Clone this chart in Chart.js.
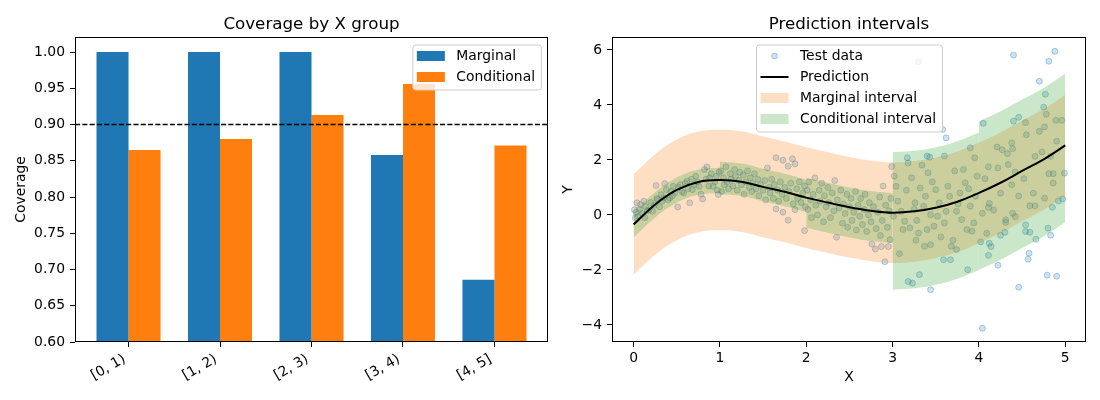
<!DOCTYPE html>
<html>
<head>
<meta charset="utf-8">
<script src="https://cdn.jsdelivr.net/npm/chart.js@4.4.1/dist/chart.umd.min.js"></script>
<style>
  html, body { margin: 0; padding: 0; background: #fff; }
  #wrap { position: relative; width: 1100px; height: 400px; }
  canvas { position: absolute; top: 0; }
  #coverage { left: 0; }
  #intervals { left: 550px; }
</style>
</head>
<body>
<div id="wrap">
  <canvas id="coverage" width="550" height="400"></canvas>
  <canvas id="intervals" width="550" height="400"></canvas>
</div>
<script>
// ---- left panel: coverage per group
const groups = ['[0, 1)', '[1, 2)', '[2, 3)', '[3, 4)', '[4, 5]'];
const marginalCov = [1.0, 1.0, 1.0, 0.858, 0.686];
const conditionalCov = [0.865, 0.880, 0.913, 0.956, 0.871];
const targetCov = 0.9;
const coverageTicks = [0.6, 0.65, 0.7, 0.75, 0.8, 0.85, 0.9, 0.95, 1.0];

// ---- right panel: prediction + intervals
const gridX = [0, 0.25, 0.5, 0.75, 1, 1.25, 1.5, 1.75, 2, 2.25, 2.5, 2.75, 3, 3.25, 3.5, 3.75, 4, 4.25, 4.5, 4.75, 5];
const prediction = [-0.35, 0.38, 0.91, 1.2, 1.27, 1.21, 1.02, 0.84, 0.63, 0.45, 0.28, 0.15, 0.08, 0.13, 0.26, 0.48, 0.8, 1.17, 1.6, 2.02, 2.53];
const marginalUpper = [1.48, 2.21, 2.74, 3.03, 3.1, 3.04, 2.85, 2.67, 2.46, 2.28, 2.11, 1.98, 1.91, 1.96, 2.09, 2.31, 2.63, 3.0, 3.43, 3.85, 4.36];
const marginalLower = [-2.18, -1.45, -0.92, -0.63, -0.56, -0.62, -0.81, -0.99, -1.2, -1.38, -1.55, -1.68, -1.75, -1.7, -1.57, -1.35, -1.03, -0.66, -0.23, 0.19, 0.7];

// conditional interval, one band per group, sampled at group start + 0, .25, .5, .75, 1
const groupStart = [0, 1, 2, 3, 4];
const groupSteps = [0, 0.25, 0.5, 0.75, 1];
const conditionalUpper = [
  [0.1, 0.83, 1.36, 1.65, 1.72],
  [1.93, 1.87, 1.68, 1.5, 1.29],
  [1.35, 1.17, 1.0, 0.87, 0.8],
  [2.28, 2.33, 2.46, 2.68, 3.0],
  [3.4, 3.77, 4.2, 4.62, 5.13]
];
const conditionalLower = [
  [-0.82, -0.09, 0.44, 0.73, 0.8],
  [0.75, 0.69, 0.5, 0.32, 0.11],
  [-0.47, -0.65, -0.82, -0.95, -1.02],
  [-2.72, -2.67, -2.54, -2.32, -2.0],
  [-2.0, -1.63, -1.2, -0.78, -0.27]
];

const testData = [
  [0.01,0.19],[0.02,-0.11],[0.03,0.1],[0.04,0.44],[0.05,-0.05],[0.07,0.2],[0.08,0.38],[0.1,0.05],[0.12,0.5],[0.13,-0.1],
  [0.14,0.3],[0.16,0.15],[0.18,0.19],[0.2,0.45],[0.22,0.13],[0.24,0.35],[0.26,1.07],[0.27,0.6],[0.28,0.56],[0.3,0.3],
  [0.32,0.74],[0.33,0.5],[0.35,0.62],[0.36,1.14],[0.38,0.92],[0.4,0.55],[0.42,0.62],[0.43,0.85],[0.45,0.7],[0.46,1.04],
  [0.48,0.8],[0.51,0.29],[0.52,1.0],[0.54,1.1],[0.56,0.85],[0.58,0.8],[0.6,1.15],[0.62,1.23],[0.63,0.95],[0.65,0.44],
  [0.67,1.3],[0.68,0.92],[0.7,1.1],[0.72,1.41],[0.74,1.2],[0.76,1.04],[0.78,0.75],[0.8,0.58],[0.82,1.65],[0.84,1.3],
  [0.85,1.75],[0.87,1.05],[0.88,1.35],[0.9,1.5],[0.92,1.04],[0.94,1.2],[0.96,1.41],[0.97,0.9],[0.98,0.74],[0.99,1.55],
  [1.01,1.6],[1.02,0.85],[1.04,1.35],[1.05,1.1],[1.07,1.75],[1.08,1.2],[1.1,0.95],[1.12,1.5],[1.13,1.3],[1.15,1.05],
  [1.17,1.65],[1.18,1.4],[1.2,0.9],[1.22,1.25],[1.23,1.55],[1.25,1.1],[1.27,1.45],[1.28,0.75],[1.3,1.2],[1.32,1.6],
  [1.34,1.0],[1.35,1.35],[1.37,0.85],[1.38,1.15],[1.4,1.5],[1.42,0.95],[1.44,1.3],[1.45,0.7],[1.47,1.1],[1.5,0.9],
  [1.52,1.25],[1.53,0.55],[1.55,1.71],[1.57,1.0],[1.58,0.8],[1.6,1.3],[1.62,0.6],[1.63,1.1],[1.65,2.08],[1.65,0.22],
  [1.67,0.9],[1.68,0.5],[1.7,1.2],[1.72,0.75],[1.73,1.99],[1.73,0.1],[1.75,1.0],[1.77,0.6],[1.79,1.77],[1.79,-0.19],
  [1.8,0.85],[1.82,1.15],[1.84,2.04],[1.85,0.4],[1.87,1.86],[1.87,0.19],[1.89,0.95],[1.9,0.6],[1.92,1.2],[1.94,0.45],
  [1.96,0.8],[1.98,1.05],[1.98,-0.57],[1.99,0.3],
  [2.01,0.9],[2.02,0.2],[2.03,1.2],[2.05,0.55],[2.06,-0.1],[2.08,0.75],[2.1,1.35],[2.11,0.35],[2.13,0.0],[2.15,0.9],
  [2.16,0.5],[2.18,1.15],[2.2,-0.25],[2.21,0.7],[2.23,0.3],[2.25,1.0],[2.26,0.45],[2.28,-0.1],[2.3,0.8],[2.32,0.15],
  [2.33,1.25],[2.35,-0.81],[2.36,0.55],[2.38,0.25],[2.4,0.9],[2.42,-0.3],[2.43,0.4],[2.45,0.05],[2.47,0.75],[2.48,-0.45],
  [2.5,0.3],[2.52,0.6],[2.53,-0.2],[2.55,0.1],[2.57,0.85],[2.58,-0.55],[2.6,0.35],[2.62,-0.05],[2.63,0.6],[2.65,-0.35],
  [2.67,0.2],[2.68,0.75],[2.7,-0.6],[2.72,0.0],[2.73,0.45],[2.75,-0.25],[2.76,-1.06],[2.78,0.3],[2.8,-1.24],[2.81,-0.5],
  [2.83,0.1],[2.85,0.65],[2.86,-0.75],[2.87,-1.15],[2.88,-0.2],[2.89,1.05],[2.91,-1.7],[2.92,0.35],[2.94,-0.45],[2.95,-1.15],
  [2.96,0.15],[2.97,-0.9],[2.98,0.6],[2.99,1.76],
  [3.01,-0.05],[3.02,1.41],[3.04,1.04],[3.06,0.5],[3.08,-1.41],[3.1,0.13],[3.12,-0.53],[3.14,-0.23],[3.16,0.9],[3.17,2.08],
  [3.18,1.89],[3.18,-2.42],[3.2,-0.47],[3.22,1.35],[3.23,-2.48],[3.25,0.2],[3.26,0.44],[3.27,-0.92],[3.28,-0.2],[3.3,5.57],
  [3.3,-0.66],[3.31,-2.17],[3.32,0.98],[3.34,1.81],[3.36,0.32],[3.37,-1.14],[3.38,0.68],[3.4,2.14],[3.4,-0.53],[3.41,1.53],
  [3.43,2.1],[3.44,0.01],[3.44,-1.08],[3.44,-2.72],[3.46,1.2],[3.48,-0.41],[3.5,0.92],[3.52,-0.05],[3.54,0.44],[3.56,-0.8],
  [3.58,3.11],[3.59,-1.63],[3.6,2.14],[3.6,-0.29],[3.62,2.8],[3.62,0.13],[3.64,1.04],[3.66,0.68],[3.67,-1.63],[3.68,-1.14],
  [3.7,-0.92],[3.72,1.6],[3.74,0.13],[3.74,-1.26],[3.76,0.4],[3.78,0.8],[3.8,-0.17],[3.82,1.65],[3.84,1.17],[3.86,-0.53],
  [3.87,-1.99],[3.88,0.95],[3.9,2.44],[3.9,0.32],[3.92,-0.59],[3.94,-0.29],[3.95,2.08],[3.96,0.68],[3.98,1.41],
  [4.02,-0.98],[4.04,-4.12],[4.04,0.06],[4.05,3.33],[4.07,1.32],[4.09,-0.67],[4.11,1.75],[4.11,0.27],[4.11,-1.47],[4.12,0.42],
  [4.12,-1.03],[4.14,-1.15],[4.17,0.18],[4.21,2.47],[4.22,1.71],[4.22,-1.83],[4.25,0.79],[4.25,-0.74],[4.27,2.37],[4.3,-0.63],
  [4.31,-0.27],[4.31,-0.18],[4.33,2.23],[4.34,1.83],[4.38,2.62],[4.38,1.1],[4.39,2.41],[4.39,0.06],[4.4,5.81],[4.4,3.41],
  [4.42,1.56],[4.42,-0.06],[4.46,3.55],[4.46,0.69],[4.46,-2.63],[4.52,1.32],[4.54,3.36],[4.54,-0.36],[4.54,-0.6],[4.55,2.92],
  [4.57,-1.61],[4.58,-1.39],[4.59,0.33],[4.59,-0.63],[4.63,0.79],[4.65,2.13],[4.65,0.33],[4.66,-0.88],[4.7,4.86],[4.7,3.04],
  [4.73,2.29],[4.75,3.92],[4.76,3.2],[4.76,0.61],[4.77,4.39],[4.78,3.66],[4.79,-2.19],[4.8,-0.48],[4.81,5.59],[4.81,1.5],
  [4.83,2.13],[4.83,-0.74],[4.85,0.28],[4.86,1.5],[4.86,1.16],[4.88,5.95],[4.89,3.44],[4.9,2.68],[4.9,-2.23],[4.92,0.51],
  [4.96,3.44],[4.97,0.58],[4.99,1.52]
];
const xTicks = [0, 1, 2, 3, 4, 5];
const yTicks = [-4, -2, 0, 2, 4, 6];

const BLUE = '#1f77b4', ORANGE = '#ff7f0e';
const ORANGE_BAND = 'rgba(255,127,14,0.25)', GREEN_BAND = 'rgba(44,160,44,0.25)';
const DOT_FILL = 'rgba(31,119,180,0.22)', DOT_EDGE = 'rgba(31,119,180,0.32)';

Chart.defaults.font.family = 'DejaVu Sans';
Chart.defaults.font.size = 13.9;
Chart.defaults.color = '#000';

const minus = v => (v < 0 ? '\u2212' + Math.abs(v) : String(v));

// matplotlib-ish frame, title and legend
const mplLook = {
  id: 'mplLook',
  afterDraw(chart, args, opts) {
    const ctx = chart.ctx;
    const a = chart.chartArea;
    ctx.save();
    ctx.strokeStyle = '#000';
    ctx.lineWidth = 1;
    ctx.strokeRect(Math.round(a.left) + 0.5, Math.round(a.top) + 0.5,
      Math.round(a.right - a.left) - 1, Math.round(a.bottom - a.top) - 1);

    ctx.fillStyle = '#000';
    ctx.font = '16.7px "DejaVu Sans"';
    ctx.textAlign = 'center';
    ctx.textBaseline = 'alphabetic';
    ctx.fillText(opts.title, (a.left + a.right) / 2, a.top - 8.3);

    const items = opts.legend;
    ctx.font = '13.9px "DejaVu Sans"';
    const textW = Math.max(...items.map(it => ctx.measureText(it.label).width));
    const w = 44 + textW + 6;
    const h = 21 * items.length + 3;
    const top = a.top + 7.5;
    const left = opts.legendAlign === 'center' ? (a.left + a.right - w) / 2 : a.right - 7 - w;
    ctx.beginPath();
    if (ctx.roundRect) ctx.roundRect(left + 0.5, top + 0.5, w, h, 3);
    else ctx.rect(left + 0.5, top + 0.5, w, h);
    ctx.fillStyle = 'rgba(255,255,255,0.8)';
    ctx.fill();
    ctx.strokeStyle = '#cccccc';
    ctx.lineWidth = 1;
    ctx.stroke();
    items.forEach((it, i) => {
      const cy = top + 11.5 + 21 * i;
      const hx = left + 4.5;
      if (it.kind === 'patch') {
        ctx.fillStyle = it.color;
        ctx.fillRect(hx, cy - 5, 28, 10);
      } else if (it.kind === 'line') {
        ctx.strokeStyle = it.color;
        ctx.lineWidth = 2;
        ctx.beginPath();
        ctx.moveTo(hx, cy);
        ctx.lineTo(hx + 28, cy);
        ctx.stroke();
      } else {
        ctx.beginPath();
        ctx.arc(hx + 14, cy, 3, 0, Math.PI * 2);
        ctx.fillStyle = it.color;
        ctx.fill();
        ctx.strokeStyle = it.edge;
        ctx.lineWidth = 1;
        ctx.stroke();
      }
      ctx.fillStyle = '#000';
      ctx.textAlign = 'left';
      ctx.textBaseline = 'middle';
      ctx.fillText(it.label, left + 44, cy);
    });
    ctx.restore();
  }
};

const tickGrid = { display: true, offset: false, drawOnChartArea: false, drawTicks: true, tickLength: 5, tickColor: '#000', tickWidth: 1 };

// ---------- Coverage by X group
new Chart(document.getElementById('coverage'), {
  type: 'bar',
  plugins: [mplLook],
  data: {
    datasets: [
      {
        label: 'Marginal',
        data: marginalCov.map((v, i) => ({ x: i, y: v })),
        backgroundColor: BLUE,
        categoryPercentage: 0.7,
        barPercentage: 1.0,
        order: 1
      },
      {
        label: 'Conditional',
        data: conditionalCov.map((v, i) => ({ x: i, y: v })),
        backgroundColor: ORANGE,
        categoryPercentage: 0.7,
        barPercentage: 1.0,
        order: 1
      },
      {
        type: 'line',
        label: 'target',
        data: [{ x: -0.585, y: targetCov }, { x: 4.585, y: targetCov }],
        borderColor: '#000',
        borderWidth: 1.4,
        borderDash: [5.1, 2.2],
        pointRadius: 0,
        order: 0
      }
    ]
  },
  options: {
    responsive: false,
    animation: false,
    events: [],
    layout: { padding: { top: 37, right: 2, left: 0, bottom: 0 } },
    plugins: {
      legend: { display: false },
      tooltip: { enabled: false },
      mplLook: {
        title: 'Coverage by X group',
        legendAlign: 'right',
        legend: [
          { kind: 'patch', color: BLUE, label: 'Marginal' },
          { kind: 'patch', color: ORANGE, label: 'Conditional' }
        ]
      }
    },
    scales: {
      x: {
        type: 'linear',
        min: -0.585,
        max: 4.585,
        offset: false,
        grid: tickGrid,
        border: { display: false },
        afterBuildTicks: s => { s.ticks = groups.map((g, i) => ({ value: i })); },
        afterFit: s => { s.height = 58; },
        ticks: {
          autoSkip: false,
          minRotation: 30,
          maxRotation: 30,
          padding: 4,
          labelOffset: -4,
          callback: v => groups[v]
        }
      },
      y: {
        min: 0.6,
        max: 1.0207,
        grid: tickGrid,
        border: { display: false },
        afterBuildTicks: s => { s.ticks = coverageTicks.map(v => ({ value: v })); },
        afterFit: s => { s.width = 75; },
        ticks: { padding: 5, callback: v => v.toFixed(2) },
        title: { display: true, text: 'Coverage', padding: { top: 13.3, bottom: 0 } }
      }
    }
  }
});

// ---------- Prediction intervals
const bandDatasets = [
  {
    type: 'line', label: 'Marginal interval',
    data: gridX.map((x, i) => ({ x, y: marginalUpper[i] })),
    borderWidth: 0, borderColor: 'transparent', backgroundColor: ORANGE_BAND,
    pointRadius: 0, tension: 0.4, fill: '+1', order: 5
  },
  {
    type: 'line', label: 'marginal lower',
    data: gridX.map((x, i) => ({ x, y: marginalLower[i] })),
    borderWidth: 0, borderColor: 'transparent', pointRadius: 0, tension: 0.4, fill: false, order: 6
  }
];
groupStart.forEach((g, k) => {
  bandDatasets.push({
    type: 'line', label: 'Conditional interval',
    data: groupSteps.map((s, i) => ({ x: g + s, y: conditionalUpper[k][i] })),
    borderWidth: 0, borderColor: 'transparent', backgroundColor: GREEN_BAND,
    pointRadius: 0, tension: 0.4, fill: '+1', order: 1
  });
  bandDatasets.push({
    type: 'line', label: 'conditional lower',
    data: groupSteps.map((s, i) => ({ x: g + s, y: conditionalLower[k][i] })),
    borderWidth: 0, borderColor: 'transparent', pointRadius: 0, tension: 0.4, fill: false, order: 2
  });
});

new Chart(document.getElementById('intervals'), {
  type: 'line',
  plugins: [mplLook],
  data: {
    datasets: [
      {
        type: 'scatter',
        label: 'Test data',
        data: testData.map(p => ({ x: p[0], y: p[1] })),
        backgroundColor: DOT_FILL,
        borderColor: DOT_EDGE,
        borderWidth: 1,
        pointRadius: 3,
        showLine: false,
        order: 10
      },
      {
        type: 'line',
        label: 'Prediction',
        data: gridX.map((x, i) => ({ x, y: prediction[i] })),
        borderColor: '#000',
        borderWidth: 2,
        pointRadius: 0,
        tension: 0.4,
        fill: false,
        order: 0
      },
      ...bandDatasets
    ]
  },
  options: {
    responsive: false,
    animation: false,
    events: [],
    layout: { padding: { top: 37, right: 14, left: 0, bottom: 0 } },
    plugins: {
      legend: { display: false },
      tooltip: { enabled: false },
      filler: { drawTime: 'beforeDatasetDraw' },
      mplLook: {
        title: 'Prediction intervals',
        legendAlign: 'center',
        legend: [
          { kind: 'dot', color: DOT_FILL, edge: DOT_EDGE, label: 'Test data' },
          { kind: 'line', color: '#000', label: 'Prediction' },
          { kind: 'patch', color: ORANGE_BAND, label: 'Marginal interval' },
          { kind: 'patch', color: GREEN_BAND, label: 'Conditional interval' }
        ]
      }
    },
    scales: {
      x: {
        type: 'linear',
        min: -0.25,
        max: 5.24,
        grid: tickGrid,
        border: { display: false },
        afterBuildTicks: s => { s.ticks = xTicks.map(v => ({ value: v })); },
        afterFit: s => { s.height = 58; },
        ticks: { padding: 3, maxRotation: 0, callback: v => minus(v) },
        title: { display: true, text: 'X', padding: { top: 0, bottom: 14 } }
      },
      y: {
        type: 'linear',
        min: -4.62,
        max: 6.47,
        grid: tickGrid,
        border: { display: false },
        afterBuildTicks: s => { s.ticks = yTicks.map(v => ({ value: v })); },
        afterFit: s => { s.width = 62; },
        ticks: { padding: 5, callback: v => minus(v) },
        title: { display: true, text: 'Y', padding: { top: 10.3, bottom: 0 } }
      }
    }
  }
});
</script>
</body>
</html>
